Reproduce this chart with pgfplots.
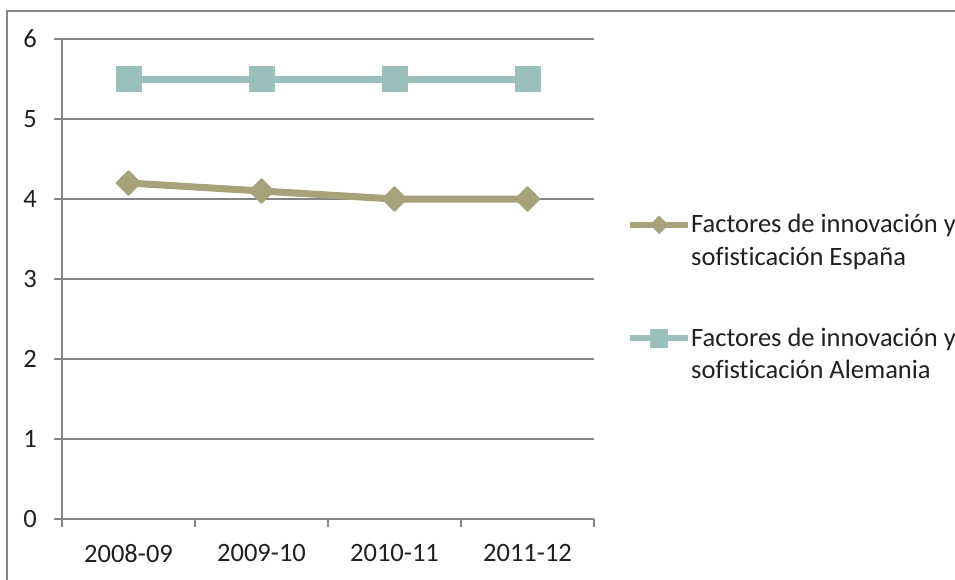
\documentclass[border=0pt]{standalone}
\usepackage{fontspec}
\setmainfont{Carlito}[Ligatures={NoCommon}]
\usepackage{pgfplots}
\pgfplotsset{compat=1.18}
\definecolor{olive}{RGB}{166,162,122}
\definecolor{teal2}{RGB}{155,191,187}
\definecolor{gridgray}{RGB}{134,134,134}
\definecolor{txt}{RGB}{35,31,32}
\newcommand\fs{\fontsize{26.5pt}{32pt}\selectfont}
\begin{document}
\begin{tikzpicture}
\path[use as bounding box, clip] (0pt,0pt) rectangle (955pt,579pt);
\draw[gridgray, line width=2pt] (7pt,-20pt) rectangle (975pt,568pt);
\begin{axis}[
  at={(62pt,60pt)}, anchor=south west,
  scale only axis, width=532pt, height=480pt,
  xmin=-0.5, xmax=3.5, ymin=0, ymax=6,
  axis x line*=bottom, axis y line*=left,
  axis line style={gridgray, line width=2pt},
  xtick={0,1,2,3},
  xticklabels={2008-09,2009-10,2010-11,2011-12},
  minor xtick={-0.5,0.5,1.5,2.5,3.5},
  ytick={0,1,2,3,4,5,6},
  ymajorgrids,
  major grid style={gridgray, line width=2pt},
  tick align=outside,
  x tick style={draw=none},
  minor x tick style={draw=gridgray, line width=2pt},
  y tick style={gridgray, line width=2pt},
  major tick length=8pt, minor tick length=8pt,
  /pgf/number format/assume math mode=true,
  every tick label/.append style={font=\fs, text=txt},
  yticklabel style={anchor=east, inner sep=0pt, xshift=-17pt},
  xticklabel style={anchor=north, inner sep=0pt, yshift=-17pt},
  clip=false,
  legend image code/.code={\draw[mark repeat=2,mark phase=2,#1,line width=6pt,every mark/.append style={scale=0.7}] plot coordinates {(0pt,8pt) (29pt,8pt) (58pt,8pt)};},
  legend style={at={(1.0620,0.6350)}, anchor=north west, draw=none, fill=none,
    inner sep=0pt, row sep=0pt, column sep=0pt, font=\fs, text=txt,
    nodes={inner sep=0pt, text depth=}, cells={anchor=base west}},
]
\addplot[olive, line width=7pt, mark=square*, mark size=8.7pt,
  mark options={solid, rotate=45, fill=olive, draw=olive, line width=1pt, line join=round}]
  coordinates {(0,4.2) (1,4.1) (2,4.0) (3,4.0)};
\addlegendentry{\rule[-14pt]{0pt}{24pt}Factores de innovación y}
\addlegendimage{empty legend}
\addlegendentry{\rule[-63pt]{0pt}{24pt}sofisticación España}
\addplot[teal2, line width=7pt, mark=square*, mark size=12.5pt,
  mark options={solid, fill=teal2, draw=teal2, line width=1pt, line join=round}]
  coordinates {(0,5.5) (1,5.5) (2,5.5) (3,5.5)};
\addlegendentry{\rule[-14pt]{0pt}{24pt}Factores de innovación y}
\addlegendimage{empty legend}
\addlegendentry{\rule[-8pt]{0pt}{24pt}sofisticación Alemania}
\end{axis}
\end{tikzpicture}
\end{document}
